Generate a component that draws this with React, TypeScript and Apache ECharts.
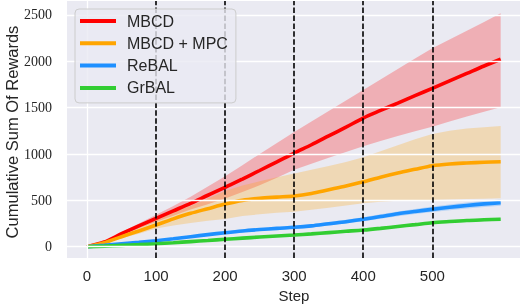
import React, { useEffect, useRef } from "react";
import * as echarts from "echarts";

const steps = [0, 25, 50, 75, 100, 125, 150, 175, 200, 225, 250, 275, 300, 325, 350, 375, 400, 425, 450, 475, 500, 525, 550, 575, 599];

const mbcdMean = [0, 50, 140, 225, 306, 387, 468, 555, 640, 730, 822, 915, 1010, 1100, 1195, 1290, 1388, 1470, 1550, 1630, 1709, 1790, 1870, 1950, 2022];
const mbcdUpper = [0, 55, 155, 250, 345, 440, 540, 650, 760, 880, 1000, 1120, 1237, 1350, 1465, 1578, 1691, 1805, 1918, 2030, 2141, 2235, 2330, 2425, 2518];
const mbcdLower = [0, 45, 125, 200, 270, 335, 400, 458, 520, 590, 662, 745, 830, 895, 960, 1022, 1085, 1140, 1195, 1245, 1295, 1350, 1405, 1455, 1504];

const mpcMean = [0, 43, 108, 170, 234, 300, 360, 410, 460, 500, 522, 535, 547, 575, 615, 655, 700, 750, 795, 835, 874, 893, 903, 911, 917];
const mpcUpper = [0, 50, 130, 215, 320, 375, 440, 520, 600, 660, 705, 750, 790, 830, 870, 915, 965, 1030, 1095, 1160, 1215, 1250, 1275, 1290, 1302];
const mpcLower = [0, 36, 90, 140, 195, 230, 255, 280, 300, 330, 350, 365, 378, 398, 420, 445, 468, 485, 495, 500, 504, 510, 515, 518, 522];

const rebalMean = [0, 15, 32, 48, 65, 85, 108, 130, 151, 170, 185, 198, 209, 225, 248, 270, 296, 325, 355, 380, 403, 425, 445, 462, 475];
const rebalSpread = [0, 3, 5, 6, 8, 9, 10, 11, 12, 13, 14, 15, 16, 17, 18, 20, 22, 24, 26, 28, 30, 31, 32, 33, 34];

const grbalMean = [0, 6, 14, 22, 32, 43, 55, 67, 80, 92, 104, 115, 126, 138, 152, 166, 180, 198, 218, 238, 259, 272, 283, 290, 296];
const grbalSpread = [0, 2, 3, 4, 5, 6, 7, 7, 8, 8, 9, 9, 10, 10, 11, 11, 12, 12, 13, 13, 14, 14, 15, 15, 16];

const yTicks = [0, 500, 1000, 1500, 2000, 2500];
const xTicks = [0, 100, 200, 300, 400, 500];
const markerSteps = [100, 200, 300, 400, 500];

const seriesNames = ["MBCD", "MBCD + MPC", "ReBAL", "GrBAL"];
const seriesColors = ["#FF0000", "#FFA500", "#1E90FF", "#32CD32"];
const bandColors = ["rgba(255,0,0,0.25)", "rgba(255,165,0,0.25)", "rgba(30,144,255,0.25)", "rgba(50,205,50,0.25)"];

const TEXT = "#262626";

function pairs(vals: number[]) {
  return steps.map((s, i) => [s, vals[i]]);
}

export default function App() {
  const ref = useRef<HTMLDivElement>(null);
  useEffect(() => {
    if (!ref.current) return;
    const chart = echarts.init(ref.current, undefined, { renderer: "svg" });

    const means = [mbcdMean, mpcMean, rebalMean, grbalMean];
    const lowers = [
      mbcdLower,
      mpcLower,
      rebalMean.map((v, i) => v - rebalSpread[i]),
      grbalMean.map((v, i) => v - grbalSpread[i]),
    ];
    const uppers = [
      mbcdUpper,
      mpcUpper,
      rebalMean.map((v, i) => v + rebalSpread[i]),
      grbalMean.map((v, i) => v + grbalSpread[i]),
    ];

    const series: any[] = [];
    series.push({
      type: "line",
      name: "_grid",
      data: [],
      silent: true,
      z: 1,
      markLine: {
        silent: true,
        symbol: ["none", "none"],
        label: { show: false },
        animation: false,
        lineStyle: { color: "#FFFFFF", width: 1.3, type: "solid" },
        data: [...yTicks.map((v) => ({ yAxis: v })), { xAxis: 0 }],
      },
    });
    for (let k = 0; k < 4; k++) {
      const lo = lowers[k];
      const up = uppers[k];
      series.push({
        type: "custom",
        name: "_band" + k,
        silent: true,
        z: 2,
        data: steps.map((s, i) => [s, lo[i], up[i]]),
        encode: { x: 0, y: [1, 2] },
        renderItem: (params: any, api: any) => {
          if (params.dataIndex !== 0) return null;
          const top = steps.map((s, i) => api.coord([s, up[i]]));
          const bot = steps.map((s, i) => api.coord([s, lo[i]])).reverse();
          return {
            type: "polygon",
            shape: { points: top.concat(bot) },
            style: { fill: bandColors[k], stroke: "none" },
          };
        },
      });
    }
    for (let k = 0; k < 4; k++) {
      series.push({
        type: "line",
        name: seriesNames[k],
        data: pairs(means[k]),
        symbol: "none",
        showSymbol: false,
        smooth: 0.3,
        color: seriesColors[k],
        lineStyle: { color: seriesColors[k], width: 3.6 },
        z: 3 + k * 0.01,
      });
    }
    series.push({
      type: "line",
      name: "_markers",
      data: [],
      silent: true,
      z: 5,
      markLine: {
        silent: true,
        symbol: ["none", "none"],
        label: { show: false },
        animation: false,
        lineStyle: { color: "#000000", width: 1.6, type: [5.5, 2.4] },
        data: markerSteps.map((v) => ({ xAxis: v })),
      },
    });

    chart.setOption({
      animation: false,
      grid: {
        left: 67,
        right: 0,
        top: 1,
        bottom: 48,
        show: true,
        backgroundColor: "#EAEAF2",
        borderWidth: 0,
      },
      xAxis: {
        type: "value",
        min: -29,
        max: 627,
        axisLine: { show: false },
        axisTick: { show: false },
        splitLine: { show: false },
        axisLabel: {
          customValues: xTicks,
          formatter: (v: number) => String(v),
          color: TEXT,
          fontFamily: "Liberation Sans",
          fontSize: 15,
          margin: 10,
        },
      },
      yAxis: {
        type: "value",
        min: -122,
        max: 2651,
        axisLine: { show: false },
        axisTick: { show: false },
        splitLine: { show: false },
        axisLabel: {
          customValues: yTicks,
          formatter: (v: number) => String(v),
          color: TEXT,
          fontFamily: "Liberation Serif",
          fontSize: 14,
          margin: 15,
        },
      },
      legend: {
        data: seriesNames,
        orient: "vertical",
        left: 75,
        top: 9,
        z: 10,
        icon: "rect",
        itemWidth: 36,
        itemHeight: 4,
        itemGap: 6.3,
        padding: [4, 8, 7, 5],
        backgroundColor: "rgba(234,234,242,0.8)",
        borderColor: "#CCCCCC",
        borderWidth: 1,
        borderRadius: 4,
        selectedMode: false,
        textStyle: {
          color: TEXT,
          fontFamily: "Liberation Sans",
          fontSize: 16,
          lineHeight: 16,
          padding: [0, 0, 0, 6],
        },
      },
      graphic: [
        {
          type: "text",
          x: 12,
          y: 132,
          rotation: Math.PI / 2,
          style: {
            text: "Cumulative Sum Of Rewards",
            fill: TEXT,
            font: '16.5px "Liberation Sans"',
            textAlign: "center",
            textVerticalAlign: "middle",
          },
        },
        {
          type: "text",
          x: 294,
          y: 295,
          style: {
            text: "Step",
            fill: TEXT,
            font: '15px "Liberation Sans"',
            textAlign: "center",
            textVerticalAlign: "middle",
          },
        },
      ],
      series,
    });
    return () => chart.dispose();
  }, []);
  return <div ref={ref} style={{ position: "fixed", left: 0, top: 0, width: 520, height: 306 }} />;
}
